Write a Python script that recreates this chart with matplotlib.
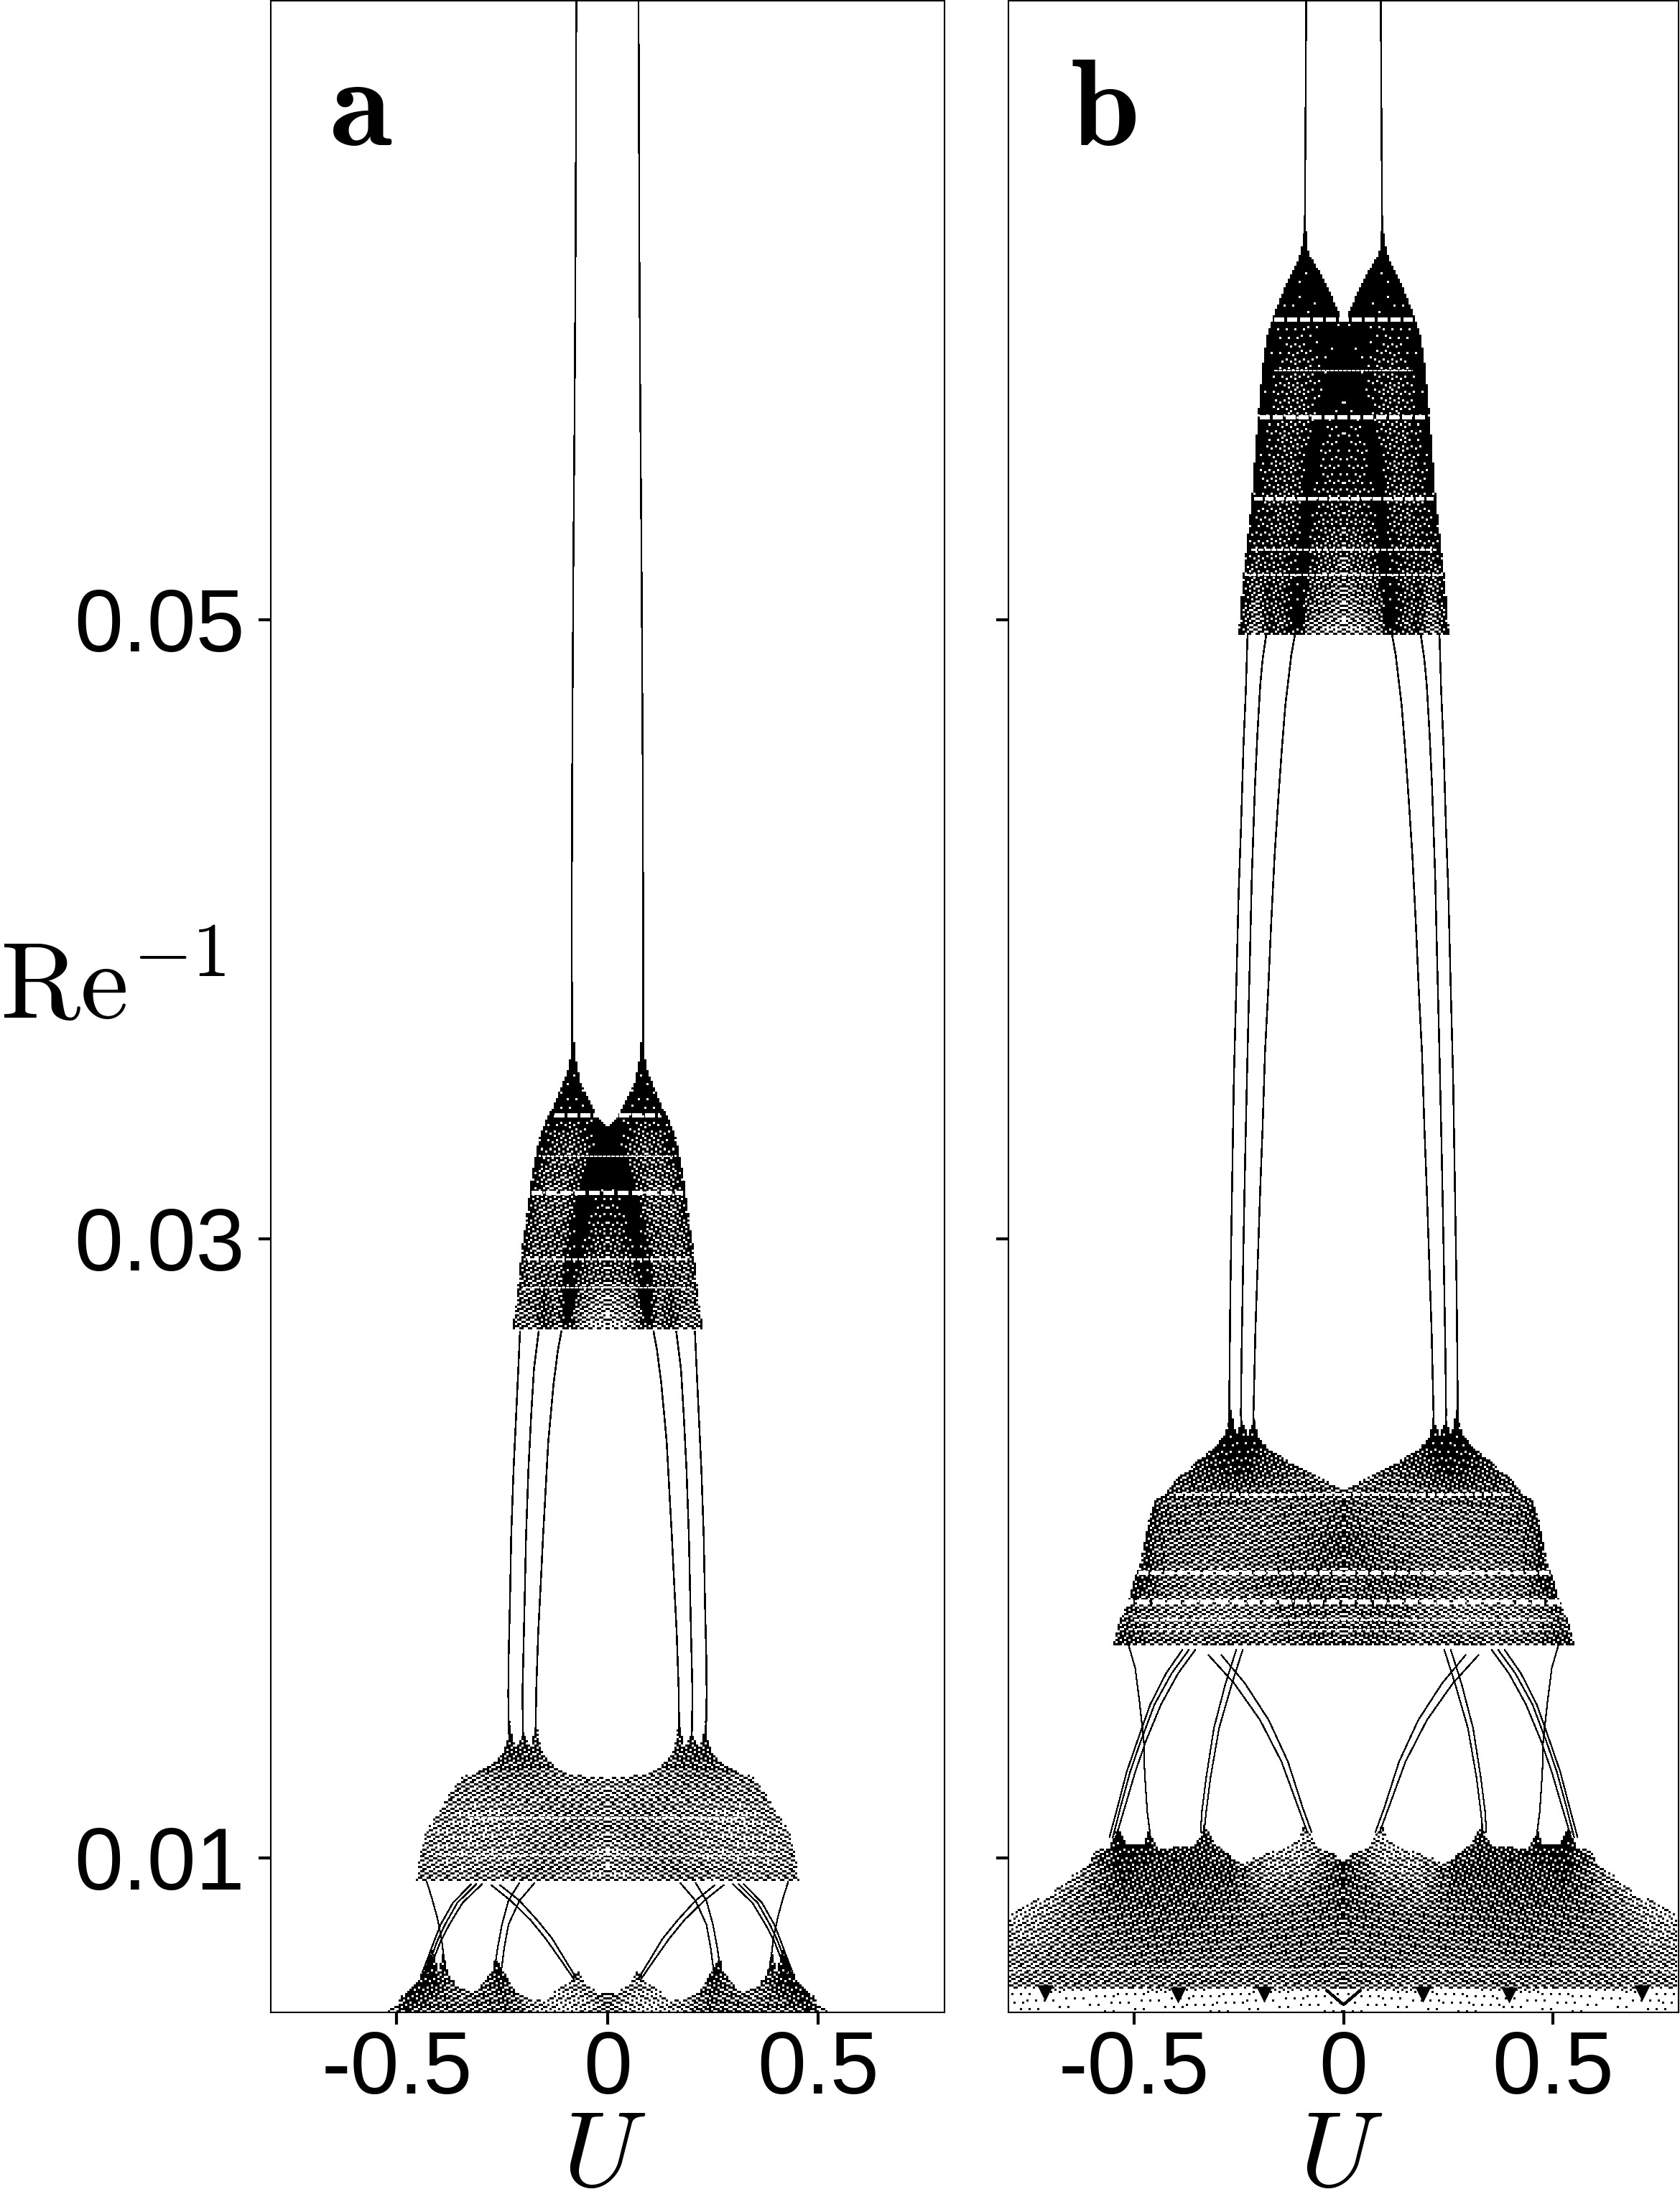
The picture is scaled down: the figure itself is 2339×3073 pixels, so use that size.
import numpy as np
import matplotlib
matplotlib.use("Agg")
import matplotlib.pyplot as plt
from matplotlib.path import Path

plt.rcParams['font.family'] = ['Liberation Sans', 'DejaVu Sans']
plt.rcParams['mathtext.fontset'] = 'cm'

FIG_W, FIG_H = 2339, 3073
XLIM = (-0.8, 0.8)
YLIM = (0.005, 0.07)
X_TICKS = [-0.5, 0, 0.5]
X_TICK_LABELS = ['-0.5', '0', '0.5']
Y_TICKS = [0.01, 0.03, 0.05]
Y_TICK_LABELS = ['0.01', '0.03', '0.05']

# ---------- panel a: periodic branches (left half, mirrored in U) ----------
a_top_u = [-0.0739, -0.0756, -0.0780, -0.0807, -0.0834, -0.0846, -0.0851]
a_top_re = [0.0700, 0.06225, 0.05671, 0.05227, 0.04606, 0.04116, 0.0373]

a_mid1_u = [-0.2075, -0.2143, -0.2229, -0.2285, -0.2314, -0.2348, -0.2354, -0.2340]
a_mid1_re = [0.02702, 0.02501, 0.02254, 0.02037, 0.01828, 0.01635, 0.01527, 0.0140]
a_mid2_u = [-0.1631, -0.1745, -0.1813, -0.1876, -0.1933, -0.1961, -0.1990, -0.2018, -0.2000]
a_mid2_re = [0.02702, 0.02578, 0.02424, 0.02254, 0.02037, 0.01859, 0.01689, 0.01527, 0.0138]
a_mid3_u = [-0.1091, -0.1176, -0.1278, -0.1404, -0.1473, -0.1529, -0.1585, -0.1643, -0.1694, -0.1700]
a_mid3_re = [0.02702, 0.0264, 0.02532, 0.02346, 0.02176, 0.02037, 0.01882, 0.01728, 0.01527, 0.0140]

a_low1_u = [-0.4292, -0.4167, -0.4042, -0.3938, -0.3897, -0.3835]
a_low1_re = [0.00923, 0.00869, 0.00807, 0.00738, 0.00691, 0.00629]
a_low2_re = [0.00915, 0.00854, 0.00784, 0.00730, 0.00676, 0.00629]
a_low2a_u = [-0.2972, -0.3440, -0.3751, -0.3959, -0.4115, -0.4271]
a_low2b_u = [-0.3107, -0.3564, -0.3855, -0.4042, -0.4188, -0.4333]
a_low2c_u = [-0.3232, -0.3668, -0.3959, -0.4115, -0.4261, -0.4396]
a_low3_re = [0.00919, 0.00861, 0.00784, 0.00707, 0.00629]
a_low3a_u = [-0.1725, -0.2089, -0.2349, -0.2452, -0.2525]
a_low3b_u = [-0.2089, -0.2349, -0.2504, -0.2608, -0.2691]
a_low4_re = [0.00912, 0.00861, 0.00799, 0.00738, 0.00668, 0.00606]
a_low4a_u = [-0.2556, -0.2089, -0.1673, -0.1309, -0.0998, -0.0717]
a_low4b_u = [-0.2764, -0.2297, -0.1829, -0.1465, -0.1102, -0.0790]

# ---------- panel a: chaotic bands ----------
a1_u = [-0.2262, -0.2163, -0.2097, -0.1999, -0.1900, -0.1802, -0.1703, -0.1605, -0.1474,
        -0.1277, -0.1113, -0.0949, -0.0870, -0.0850, -0.0785, -0.0654, -0.0423, -0.0227, 0.0]
a1_re = [0.02706, 0.02803, 0.02896, 0.03005, 0.03097, 0.03197, 0.03274, 0.03329, 0.03375,
         0.03429, 0.03483, 0.03538, 0.03599, 0.0385, 0.03599, 0.03506, 0.03437, 0.0339, 0.03356]
a1_rows = [0.0270, 0.028, 0.029, 0.030, 0.031, 0.032, 0.033, 0.034, 0.036, 0.039]
a1_cols = [0, 0.03, 0.06, 0.09, 0.12, 0.15, 0.18, 0.21, 0.235]
a1_density = [[.25, .30, .38, .75, .55, .85, .50, .50, .92],
              [.45, .50, .60, .90, .62, .82, .58, .62, 1.0],
              [.66, .72, .80, .78, .68, .68, .62, .75, 1.0],
              [.78, .82, .88, .73, .68, .64, .70, .98, 1.0],
              [.88, .92, .96, .70, .64, .64, .80, 1.0, 1.0],
              [.96, .96, .84, .64, .64, .70, 1.0, 1.0, 1.0],
              [1.0, .96, .75, .70, .75, .92, 1.0, 1.0, 1.0],
              [1.0, 1.0, .95, .92, .95, 1.0, 1.0, 1.0, 1.0],
              [1.0, 1.0, 1.0, 1.0, 1.0, 1.0, 1.0, 1.0, 1.0],
              [1.0, 1.0, 1.0, 1.0, 1.0, 1.0, 1.0, 1.0, 1.0]]
a1_wedge_u = [0.0, -0.049, -0.0755, -0.1017, -0.1116, -0.085, -0.060, -0.035, 0.0]
a1_wedge_re = [0.03352, 0.03236, 0.03135, 0.02981, 0.0271, 0.0271, 0.02981, 0.03135, 0.0322]
a1_gap_re = [0.03398, 0.03267, 0.03147, 0.02934, 0.02841]
a1_gap_span = [0.125, 0.155, 0.180, 0.190, 0.200]
a1_gap_lw = [4.0, 1.5, 4.5, 2.0, 1.5]

a2_u = [-0.4531, -0.4478, -0.4458, -0.4375, -0.4218, -0.4063, -0.3803, -0.3595, -0.3440, -0.3024,
        -0.2712, -0.2504, -0.2369, -0.2330, -0.2193, -0.1984, -0.1828, -0.1693, -0.1569, -0.1309,
        -0.0945, -0.0529, 0.0]
a2_re = [0.00925, 0.00985, 0.01016, 0.01062, 0.01109, 0.0114, 0.01194, 0.0124, 0.0126, 0.01279,
         0.01306, 0.01333, 0.0138, 0.01441, 0.01349, 0.01399, 0.01349, 0.01434, 0.01341, 0.01302,
         0.01271, 0.01262, 0.0126]
a2_rows = [0.0092, 0.0102, 0.0112, 0.0122, 0.0132, 0.0146]
a2_cols = [0, 0.08, 0.16, 0.24, 0.32, 0.40, 0.46]
a2_density = [[.30, .45, .54, .48, .44, .44, .58],
              [.40, .48, .48, .40, .40, .40, .44],
              [.48, .54, .44, .40, .35, .40, .35],
              [.44, .44, .48, .48, .44, .48, .44],
              [.44, .48, .66, .72, .62, .54, .44],
              [.54, .62, .85, 1.0, .85, .62, .44]]
a2_gap_re = [0.01128, 0.01008]
a2_gap_span = [0.33, 0.40]
a2_gap_lw = [2.0, 1.5]

a3_u = [-0.531, -0.503, -0.4895, -0.4687, -0.4479, -0.4292, -0.4146, -0.4011, -0.3907, -0.3772,
        -0.3544, -0.3232, -0.2972, -0.2764, -0.2660, -0.2452, -0.2245, -0.1881, -0.1569, -0.1153,
        -0.0842, -0.0717, -0.0530, -0.0218, 0.0]
a3_re = [0.0050, 0.00521, 0.00552, 0.00575, 0.00606, 0.00668, 0.00707, 0.00629, 0.00691, 0.00622,
         0.00583, 0.00564, 0.00591, 0.00629, 0.00676, 0.00629, 0.00575, 0.00544, 0.0054, 0.00575,
         0.00614, 0.00637, 0.00598, 0.0056, 0.00561]
a3_rows = [0.0050, 0.0056, 0.0062, 0.0072]
a3_cols = [0, 0.06, 0.12, 0.18, 0.24, 0.30, 0.36, 0.42, 0.48, 0.54]
a3_density = [[.50, .30, .25, .45, .65, .55, .60, .60, .80, .05],
              [.60, .35, .30, .40, .70, .60, .55, .75, .85, .20],
              [.50, .50, .50, .50, .85, .70, .60, .90, .90, .50],
              [.70, .70, .70, .70, .90, .80, .80, .95, .90, .50]]

# ---------- panel b: periodic branches ----------
b_top_u = [-0.0890, -0.0910, -0.0925]
b_top_re = [0.0700, 0.06538, 0.0625]

b_mid1_u = [-0.2291, -0.2331, -0.2388, -0.2446, -0.2503, -0.2560, -0.2617, -0.2657, -0.2702, -0.2731, -0.2725]
b_mid1_re = [0.04951, 0.04773, 0.04594, 0.04333, 0.04121, 0.03812, 0.0352, 0.03193, 0.02819, 0.02432, 0.0238]
b_mid2_u = [-0.1846, -0.1932, -0.1988, -0.2057, -0.2114, -0.2189, -0.2234, -0.2291, -0.2348, -0.2388, -0.2434, -0.2450, -0.2435]
b_mid2_re = [0.04951, 0.0487, 0.04789, 0.04626, 0.04463, 0.0417, 0.0391, 0.03601, 0.03258, 0.02982, 0.02624, 0.02432, 0.0238]
b_mid3_u = [-0.1160, -0.1246, -0.1303, -0.1388, -0.1474, -0.1560, -0.1646, -0.1731, -0.1800, -0.1874, -0.1932,
            -0.1988, -0.2045, -0.2103, -0.2150, -0.2140]
b_mid3_re = [0.04951, 0.04886, 0.04821, 0.04724, 0.04578, 0.04414, 0.04235, 0.04007, 0.03796, 0.03601, 0.03356,
             0.03161, 0.02933, 0.02705, 0.02432, 0.0238]

b_low1_u = [-0.5128, -0.4974, -0.4871, -0.4768, -0.4748, -0.4686, -0.4614]
b_low1_re = [0.01685, 0.01613, 0.01504, 0.01377, 0.01276, 0.01149, 0.01073]
b_low2_re = [0.01672, 0.01596, 0.01495, 0.01377, 0.01276, 0.01158, 0.01065]
b_low2a_u = [-0.3535, -0.3946, -0.4357, -0.4717, -0.4974, -0.5231, -0.5436]
b_low2b_u = [-0.3689, -0.4100, -0.4511, -0.4840, -0.5097, -0.5333, -0.5508]
b_low2c_u = [-0.3843, -0.4234, -0.4614, -0.4922, -0.5179, -0.5405, -0.5590]
b_low3_re = [0.01672, 0.01563, 0.01419, 0.01259, 0.01149, 0.01082]
b_low3a_u = [-0.2405, -0.2662, -0.2970, -0.3175, -0.3278, -0.3330]
b_low3b_u = [-0.2559, -0.2816, -0.3093, -0.3278, -0.3381, -0.3412]
b_low4_re = [0.01655, 0.01563, 0.01445, 0.0131, 0.01158, 0.01082]
b_low4a_u = [-0.3227, -0.2610, -0.1994, -0.1480, -0.1069, -0.0863]
b_low4b_u = [-0.2918, -0.2353, -0.1788, -0.1326, -0.0966, -0.0760]

# ---------- panel b: chaotic bands ----------
b1_u = [-0.2514, -0.2417, -0.2302, -0.2188, -0.2103, -0.2045, -0.1959, -0.1846, -0.1646, -0.1388,
        -0.1074, -0.0960, -0.0925, -0.0845, -0.0588, -0.0303, -0.0132, 0.0]
b1_re = [0.04952, 0.05123, 0.05265, 0.05406, 0.05568, 0.05662, 0.05796, 0.0591, 0.05994, 0.06079,
         0.06164, 0.0623, 0.0629, 0.06183, 0.06126, 0.06051, 0.05994, 0.05956]
b1_rows = [0.0495, 0.0505, 0.052, 0.054, 0.056, 0.058, 0.060, 0.062, 0.0635]
b1_cols = [0, 0.03, 0.06, 0.09, 0.12, 0.15, 0.18, 0.21, 0.255]
b1_density = [[.28, .34, .40, .58, .92, .68, .84, .40, .95],
              [.52, .58, .64, .74, .96, .74, .84, .58, 1.0],
              [.68, .74, .80, .90, .90, .80, .84, .80, 1.0],
              [.84, .84, .90, .90, .80, .80, .84, .98, 1.0],
              [.94, .90, .94, .84, .80, .80, .94, 1.0, 1.0],
              [.98, .96, .94, .84, .80, .90, 1.0, 1.0, 1.0],
              [1.0, 1.0, 1.0, .96, .96, 1.0, 1.0, 1.0, 1.0],
              [1.0, 1.0, 1.0, 1.0, 1.0, 1.0, 1.0, 1.0, 1.0],
              [1.0, 1.0, 1.0, 1.0, 1.0, 1.0, 1.0, 1.0, 1.0]]
b1_wedge_u = [0.0, -0.076, -0.0989, -0.1131, -0.096, -0.0703, -0.0417, 0.0]
b1_wedge_re = [0.05956, 0.05624, 0.05454, 0.04952, 0.04952, 0.05454, 0.05624, 0.05776]
b1_gap_re = [0.0597, 0.05804, 0.05653, 0.05392, 0.05226, 0.05146]
b1_gap_span = [0.165, 0.165, 0.200, 0.213, 0.218, 0.235]
b1_gap_lw = [4.0, 1.5, 4.0, 3.5, 2.0, 2.0]

b2_u = [-0.5504, -0.5367, -0.5122, -0.5000, -0.4878, -0.4757, -0.4635, -0.4513, -0.4228, -0.4025,
        -0.3577, -0.3089, -0.2845, -0.2748, -0.2720, -0.2561, -0.2435, -0.2293, -0.2140, -0.2033,
        -0.1788, -0.1301, -0.0651, -0.0243, 0.0]
b2_re = [0.01685, 0.01759, 0.01836, 0.01906, 0.01937, 0.02022, 0.02107, 0.02149, 0.02184, 0.02215,
         0.02269, 0.02323, 0.02362, 0.02401, 0.02455, 0.02362, 0.02412, 0.02362, 0.02412, 0.02354,
         0.02316, 0.02277, 0.02231, 0.02203, 0.02188]
b2_rows = [0.0168, 0.0178, 0.0188, 0.0200, 0.0212, 0.0225, 0.0240, 0.0250]
b2_cols = [0, 0.06, 0.12, 0.18, 0.24, 0.30, 0.36, 0.42, 0.48, 0.555]
b2_density = [[.60, .70, .65, .50, .65, .60, .55, .60, .70, .85],
              [.55, .65, .60, .50, .45, .40, .45, .45, .55, .70],
              [.60, .70, .70, .65, .55, .50, .50, .55, .85, .90],
              [.75, .70, .60, .55, .55, .55, .55, .60, .80, .90],
              [.70, .60, .60, .55, .55, .60, .60, .65, .85, .90],
              [.60, .60, .65, .70, .85, .80, .75, .70, .80, .90],
              [.90, .90, .90, .95, 1.0, 1.0, 1.0, 1.0, 1.0, 1.0],
              [.90, .90, .90, .95, 1.0, 1.0, 1.0, 1.0, 1.0, 1.0]]
b2_gap_re = [0.02173, 0.01921, 0.01828, 0.01770, 0.01736]
b2_gap_span = [0.40, 0.52, 0.53, 0.50, 0.50]
b2_gap_lw = [3.0, 4.0, 5.0, 2.0, 1.5]

b3_u = [-0.80, -0.7975, -0.7542, -0.7028, -0.6515, -0.6103, -0.5898, -0.5590, -0.5487, -0.5364,
        -0.5178, -0.4789, -0.4634, -0.4439, -0.3637, -0.3432, -0.3329, -0.3019, -0.2612, -0.2354,
        -0.1993, -0.1377, -0.1066, -0.0934, -0.0607, -0.0144, 0.0]
b3_re = [0.0050, 0.00829, 0.00854, 0.00879, 0.00938, 0.00972, 0.01023, 0.01031, 0.01065, 0.01099,
         0.0104, 0.0104, 0.0109, 0.01031, 0.01035, 0.01065, 0.01107, 0.0104, 0.00997, 0.0098,
         0.0101, 0.01027, 0.01056, 0.01107, 0.0104, 0.01006, 0.00985]
b3_rows = [0.0050, 0.00572, 0.0058, 0.0065, 0.0075, 0.0085, 0.0095, 0.0105, 0.0115]
b3_cols = [0, 0.09, 0.18, 0.27, 0.36, 0.45, 0.54, 0.63, 0.72, 0.80]
b3_density = [[.05, .04, .04, .04, .05, .03, .04, .03, .03, .05],
              [.10, .08, .08, .10, .10, .07, .08, .07, .07, .10],
              [.55, .50, .45, .50, .55, .50, .50, .50, .45, .45],
              [.55, .60, .55, .55, .55, .60, .55, .55, .50, .45],
              [.60, .60, .60, .60, .65, .65, .60, .55, .40, .35],
              [.70, .60, .55, .65, .70, .70, .70, .55, .35, .20],
              [.80, .45, .40, .75, .75, .75, .80, .45, .15, .10],
              [.70, .30, .35, .70, .75, .85, .90, .40, .10, .05],
              [.90, .80, .40, .90, .90, .90, 1.0, .50, .10, .05]]
b3_gap_re = [0.00639]
b3_gap_span = [0.80]
b3_gap_lw = [1.5]
b_v_u = [-0.040, 0.0, 0.040]
b_v_re = [0.00571, 0.00525, 0.00571]
b_blob_u = [-0.395, -0.19, -0.713, 0.19, 0.395, 0.713]
b_blob_re = [0.00555, 0.00558, 0.00562, 0.00558, 0.00555, 0.00562]

LINE_LW = 1.05
THIN_LW = 0.75
CELL_PX = 3.0
WEDGE_GAIN = 0.16
R2_A, R2_B = 0.7548776662, 0.5698402910  # fixed low-discrepancy dither steps


def both_sides(ax, u, re, lw=LINE_LW):
    u = np.asarray(u)
    for s in (1, -1):
        ax.plot(s * u, re, color='k', lw=lw, solid_capstyle='butt', antialiased=False, zorder=2)


def band(ax, u, re, rows, cols, density, wedge=None):
    """Deterministic dither of the read density table inside the read outline."""
    u = np.asarray(u)
    re = np.asarray(re)
    if u[-1] == 0:
        pts = np.column_stack([np.r_[u, -u[::-1][1:]], np.r_[re, re[::-1][1:]]])
    else:
        pts = np.column_stack([np.r_[u, -u[::-1]], np.r_[re, re[::-1]]])
    outline = Path(pts)
    bb = ax.get_window_extent()
    du = CELL_PX * (XLIM[1] - XLIM[0]) / bb.width
    dr = CELL_PX * (YLIM[1] - YLIM[0]) / bb.height
    nx = int(np.ceil(np.abs(u).max() / du)) + 1
    x_edges = np.arange(-nx, nx + 1) * du
    y_edges = np.arange(re.min(), re.max() + dr, dr)
    xc = 0.5 * (x_edges[:-1] + x_edges[1:])
    yc = 0.5 * (y_edges[:-1] + y_edges[1:])
    d = np.asarray(density, dtype=float)
    by_col = np.array([np.interp(np.abs(xc), cols, r) for r in d])
    dens = np.array([np.interp(yc, rows, by_col[:, j]) for j in range(len(xc))]).T
    XX, YY = np.meshgrid(xc, yc)
    flat = np.column_stack([XX.ravel(), YY.ravel()])
    inside = outline.contains_points(flat).reshape(XX.shape)
    if wedge is not None:
        wp = Path(np.column_stack([wedge[0], wedge[1]]))
        in_w = wp.contains_points(np.column_stack([-np.abs(XX).ravel(), YY.ravel()])).reshape(XX.shape)
        dens = np.where(in_w, np.minimum(1.0, dens + WEDGE_GAIN), dens)
    ix = np.abs(np.arange(len(xc)) - (len(xc) - 1) / 2).astype(int)
    iy = np.arange(len(yc))
    thr = (np.outer(iy, np.ones_like(ix)) * R2_B + np.outer(np.ones_like(iy), ix) * R2_A) % 1.0
    on = (dens > thr) & inside
    rgba = np.zeros(on.shape + (4,))
    rgba[..., 3] = on.astype(float)
    ax.imshow(rgba, extent=(x_edges[0], x_edges[-1], y_edges[0], y_edges[-1]), origin='lower',
              aspect='auto', interpolation='nearest', zorder=3)
    ax.set_xlim(*XLIM)
    ax.set_ylim(*YLIM)


def gaps(ax, re, span, lw):
    for r, s, w in zip(re, span, lw):
        ax.plot([-s, s], [r, r], color='w', lw=w, ls=(0, (2.4, 0.8)),
                antialiased=False, zorder=3.5)


fig = plt.figure(figsize=(FIG_W / 100, FIG_H / 100), dpi=100)


def make_axes(x0, x1):
    top, bottom = 1.0, 2802.0
    ax = fig.add_axes([x0 / FIG_W, 1 - bottom / FIG_H, (x1 - x0) / FIG_W, (bottom - top) / FIG_H])
    ax.set_xlim(*XLIM)
    ax.set_ylim(*YLIM)
    ax.set_xticks(X_TICKS)
    ax.set_xticklabels(X_TICK_LABELS)
    ax.set_yticks(Y_TICKS)
    for s in ax.spines.values():
        s.set_linewidth(1.5)
        s.set_zorder(10)
    ax.tick_params(axis='x', length=12.5, width=3.0, labelsize=88, pad=5)
    ax.tick_params(axis='y', length=12.5, width=3.0, labelsize=88, pad=13)
    return ax


ax_a = make_axes(376.5, 1315)
ax_a.set_yticklabels(Y_TICK_LABELS)
ax_b = make_axes(1404, 2337)
ax_b.set_yticklabels([])

# panel a
both_sides(ax_a, a_top_u, a_top_re)
both_sides(ax_a, a_mid1_u, a_mid1_re)
both_sides(ax_a, a_mid2_u, a_mid2_re)
both_sides(ax_a, a_mid3_u, a_mid3_re)
both_sides(ax_a, a_low1_u, a_low1_re, THIN_LW)
for lo in (a_low2a_u, a_low2b_u, a_low2c_u):
    both_sides(ax_a, lo, a_low2_re, THIN_LW)
for lo in (a_low3a_u, a_low3b_u):
    both_sides(ax_a, lo, a_low3_re, THIN_LW)
for lo in (a_low4a_u, a_low4b_u):
    both_sides(ax_a, lo, a_low4_re, THIN_LW)
band(ax_a, a1_u, a1_re, a1_rows, a1_cols, a1_density, wedge=(a1_wedge_u, a1_wedge_re))
gaps(ax_a, a1_gap_re, a1_gap_span, a1_gap_lw)
band(ax_a, a2_u, a2_re, a2_rows, a2_cols, a2_density)
gaps(ax_a, a2_gap_re, a2_gap_span, a2_gap_lw)
band(ax_a, a3_u, a3_re, a3_rows, a3_cols, a3_density)

# panel b
both_sides(ax_b, b_top_u, b_top_re)
both_sides(ax_b, b_mid1_u, b_mid1_re)
both_sides(ax_b, b_mid2_u, b_mid2_re)
both_sides(ax_b, b_mid3_u, b_mid3_re)
both_sides(ax_b, b_low1_u, b_low1_re, THIN_LW)
for lo in (b_low2a_u, b_low2b_u, b_low2c_u):
    both_sides(ax_b, lo, b_low2_re, THIN_LW)
for lo in (b_low3a_u, b_low3b_u):
    both_sides(ax_b, lo, b_low3_re, THIN_LW)
for lo in (b_low4a_u, b_low4b_u):
    both_sides(ax_b, lo, b_low4_re, THIN_LW)
band(ax_b, b1_u, b1_re, b1_rows, b1_cols, b1_density, wedge=(b1_wedge_u, b1_wedge_re))
gaps(ax_b, b1_gap_re, b1_gap_span, b1_gap_lw)
band(ax_b, b2_u, b2_re, b2_rows, b2_cols, b2_density)
gaps(ax_b, b2_gap_re, b2_gap_span, b2_gap_lw)
band(ax_b, b3_u, b3_re, b3_rows, b3_cols, b3_density)
gaps(ax_b, b3_gap_re, b3_gap_span, b3_gap_lw)
ax_b.plot(b_v_u, b_v_re, color='k', lw=2.2, antialiased=False, zorder=5)
ax_b.scatter(b_blob_u, b_blob_re, marker='v', s=260, color='k', lw=0, zorder=5)


def px_text(x, y, s, **kw):
    fig.text(x / FIG_W, 1 - y / FIG_H, s, va='baseline', **kw)


px_text(0, 1418, r'$\mathrm{Re}^{-1}$', fontsize=109, ha='left')
px_text(841, 3044, r'$U$', fontsize=108, ha='center')
px_text(1867, 3044, r'$U$', fontsize=108, ha='center')
px_text(458, 202, r'$\mathbf{a}$', fontsize=128, ha='left')
px_text(1490, 202, r'$\mathbf{b}$', fontsize=124, ha='left')

fig.savefig('out.png', dpi=100, facecolor='white')
